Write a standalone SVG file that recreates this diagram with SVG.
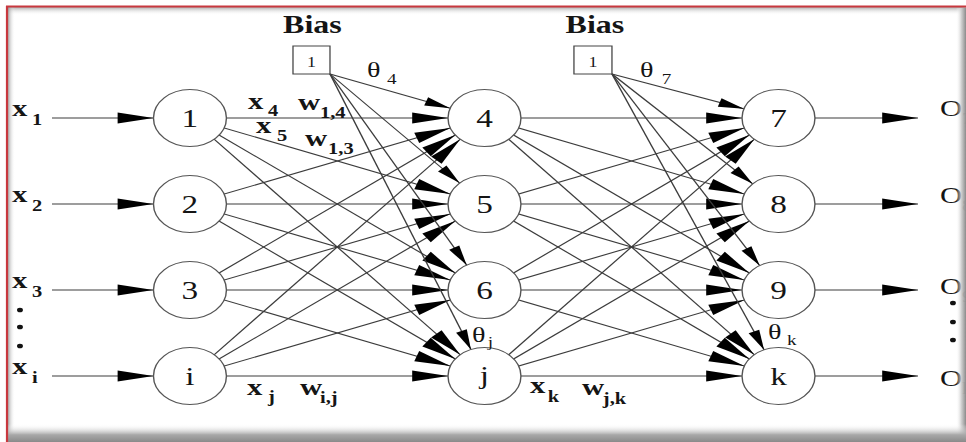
<svg xmlns="http://www.w3.org/2000/svg" width="966" height="442" viewBox="0 0 966 442">
  <defs>
    <style>
      .e { stroke: #3c3c3c; stroke-width: 1.1; fill: none; }
      .in { marker-end: url(#ah); }
      .bi { marker-end: url(#ahb); }
      .out { marker-end: url(#aho); }
      .node { fill: #fff; stroke: #555; stroke-width: 1.1; }
      .box { fill: #fff; stroke: #444; stroke-width: 1; }
      text { font-family: "Liberation Serif", "Times New Roman", serif; fill: #151515; }
      .nl { font-size: 26px; text-anchor: middle; }
      .lb { font-size: 24px; font-weight: bold; }
      .sb { font-size: 16px; font-weight: bold; }
      .th { font-size: 22px; }
      .ts { font-size: 15px; }
      .ol { font-size: 24px; }
      .os { font-size: 16px; }
      .bias { font-size: 25px; font-weight: bold; text-anchor: middle; }
      .one { font-size: 14px; text-anchor: middle; }
      .dot { fill: #111; }
    </style>
    <!-- arrowheads: tips pulled back by the node radius so they land on the node outline -->
    <marker id="ah" markerUnits="userSpaceOnUse" orient="auto" refX="56.5" refY="5.5" markerWidth="60" markerHeight="11" overflow="visible">
      <path d="M0,0 L28,5.5 L0,11 Z" fill="#000"/>
    </marker>
    <marker id="ahb" markerUnits="userSpaceOnUse" orient="auto" refX="48.5" refY="4.5" markerWidth="50" markerHeight="9" overflow="visible">
      <path d="M0,0 L20,4.5 L0,9 Z" fill="#000"/>
    </marker>
    <marker id="aho" markerUnits="userSpaceOnUse" orient="auto" refX="28" refY="5.5" markerWidth="28" markerHeight="11" overflow="visible">
      <path d="M0,0 L28,5.5 L0,11 Z" fill="#000"/>
    </marker>
    <linearGradient id="shTop" x1="0" y1="0" x2="0" y2="1">
      <stop offset="0" stop-color="#8e8e8e" stop-opacity="0.75"/>
      <stop offset="1" stop-color="#ffffff" stop-opacity="0"/>
    </linearGradient>
    <linearGradient id="shLeft" x1="0" y1="0" x2="1" y2="0">
      <stop offset="0" stop-color="#8e8e8e" stop-opacity="0.75"/>
      <stop offset="1" stop-color="#ffffff" stop-opacity="0"/>
    </linearGradient>
    <linearGradient id="shRight" x1="0" y1="0" x2="1" y2="0">
      <stop offset="0" stop-color="#ffffff" stop-opacity="0"/>
      <stop offset="0.55" stop-color="#c8c8c8" stop-opacity="0.9"/>
      <stop offset="1" stop-color="#8a8a8a"/>
    </linearGradient>
    <linearGradient id="shBottom" x1="0" y1="0" x2="0" y2="1">
      <stop offset="0" stop-color="#ffffff" stop-opacity="0"/>
      <stop offset="0.6" stop-color="#a8a8a8"/>
      <stop offset="1" stop-color="#8a8a8a"/>
    </linearGradient>
  </defs>

  <rect x="0" y="0" width="966" height="442" fill="#fff"/>

  <!-- the network, drawn on a grid stretched 1.28x horizontally -->
  <g transform="scale(1.28 1)">
    <g id="connectors">
      <!-- inputs -->
      <line class="e in" x1="40.6" y1="118" x2="148.4" y2="118"/>
      <line class="e in" x1="40.6" y1="204" x2="148.4" y2="204"/>
      <line class="e in" x1="40.6" y1="290" x2="148.4" y2="290"/>
      <line class="e in" x1="40.6" y1="376" x2="148.4" y2="376"/>
      <!-- input layer to hidden layer -->
      <line class="e in" x1="148.4" y1="118" x2="378.5" y2="118"/>
      <line class="e in" x1="148.4" y1="118" x2="378.5" y2="204"/>
      <line class="e in" x1="148.4" y1="118" x2="378.5" y2="290"/>
      <line class="e in" x1="148.4" y1="118" x2="378.5" y2="376"/>
      <line class="e in" x1="148.4" y1="204" x2="378.5" y2="118"/>
      <line class="e in" x1="148.4" y1="204" x2="378.5" y2="204"/>
      <line class="e in" x1="148.4" y1="204" x2="378.5" y2="290"/>
      <line class="e in" x1="148.4" y1="204" x2="378.5" y2="376"/>
      <line class="e in" x1="148.4" y1="290" x2="378.5" y2="118"/>
      <line class="e in" x1="148.4" y1="290" x2="378.5" y2="204"/>
      <line class="e in" x1="148.4" y1="290" x2="378.5" y2="290"/>
      <line class="e in" x1="148.4" y1="290" x2="378.5" y2="376"/>
      <line class="e in" x1="148.4" y1="376" x2="378.5" y2="118"/>
      <line class="e in" x1="148.4" y1="376" x2="378.5" y2="204"/>
      <line class="e in" x1="148.4" y1="376" x2="378.5" y2="290"/>
      <line class="e in" x1="148.4" y1="376" x2="378.5" y2="376"/>
      <!-- first bias -->
      <line class="e bi" x1="257.8" y1="74" x2="378.5" y2="118"/>
      <line class="e bi" x1="257.8" y1="74" x2="378.5" y2="204"/>
      <line class="e bi" x1="257.8" y1="74" x2="378.5" y2="290"/>
      <line class="e bi" x1="257.8" y1="74" x2="378.5" y2="376"/>
      <!-- hidden layer to output layer -->
      <line class="e in" x1="378.5" y1="118" x2="608.2" y2="118"/>
      <line class="e in" x1="378.5" y1="118" x2="608.2" y2="204"/>
      <line class="e in" x1="378.5" y1="118" x2="608.2" y2="290"/>
      <line class="e in" x1="378.5" y1="118" x2="608.2" y2="376"/>
      <line class="e in" x1="378.5" y1="204" x2="608.2" y2="118"/>
      <line class="e in" x1="378.5" y1="204" x2="608.2" y2="204"/>
      <line class="e in" x1="378.5" y1="204" x2="608.2" y2="290"/>
      <line class="e in" x1="378.5" y1="204" x2="608.2" y2="376"/>
      <line class="e in" x1="378.5" y1="290" x2="608.2" y2="118"/>
      <line class="e in" x1="378.5" y1="290" x2="608.2" y2="204"/>
      <line class="e in" x1="378.5" y1="290" x2="608.2" y2="290"/>
      <line class="e in" x1="378.5" y1="290" x2="608.2" y2="376"/>
      <line class="e in" x1="378.5" y1="376" x2="608.2" y2="118"/>
      <line class="e in" x1="378.5" y1="376" x2="608.2" y2="204"/>
      <line class="e in" x1="378.5" y1="376" x2="608.2" y2="290"/>
      <line class="e in" x1="378.5" y1="376" x2="608.2" y2="376"/>
      <!-- second bias -->
      <line class="e bi" x1="478.1" y1="74" x2="608.2" y2="118"/>
      <line class="e bi" x1="478.1" y1="74" x2="608.2" y2="204"/>
      <line class="e bi" x1="478.1" y1="74" x2="608.2" y2="290"/>
      <line class="e bi" x1="478.1" y1="74" x2="608.2" y2="376"/>
      <!-- outputs -->
      <line class="e out" x1="608.2" y1="118" x2="717.2" y2="118"/>
      <line class="e out" x1="608.2" y1="204" x2="717.2" y2="204"/>
      <line class="e out" x1="608.2" y1="290" x2="717.2" y2="290"/>
      <line class="e out" x1="608.2" y1="376" x2="717.2" y2="376"/>
    </g>

    <g id="bias1">
      <text class="bias" x="244.1" y="33">Bias</text>
      <rect class="box" x="228.9" y="46" width="28.9" height="28"/>
      <text class="one" x="243.4" y="67">1</text>
    </g>
    <g id="bias2">
      <text class="bias" x="464.8" y="33">Bias</text>
      <rect class="box" x="448.4" y="46" width="29.7" height="28"/>
      <text class="one" x="463.3" y="67">1</text>
    </g>

    <g id="n1"><circle class="node" cx="148.4" cy="118" r="28.5"/><text class="nl" x="148.4" y="127">1</text></g>
    <g id="n2"><circle class="node" cx="148.4" cy="204" r="28.5"/><text class="nl" x="148.4" y="213">2</text></g>
    <g id="n3"><circle class="node" cx="148.4" cy="290" r="28.5"/><text class="nl" x="148.4" y="299">3</text></g>
    <g id="ni"><circle class="node" cx="148.4" cy="376" r="28.5"/><text class="nl" x="148.4" y="385">i</text></g>
    <g id="n4"><circle class="node" cx="378.5" cy="118" r="28.5"/><text class="nl" x="378.5" y="127">4</text></g>
    <g id="n5"><circle class="node" cx="378.5" cy="204" r="28.5"/><text class="nl" x="378.5" y="213">5</text></g>
    <g id="n6"><circle class="node" cx="378.5" cy="290" r="28.5"/><text class="nl" x="378.5" y="299">6</text></g>
    <g id="nj"><circle class="node" cx="378.5" cy="376" r="28.5"/><text class="nl" x="378.5" y="384">j</text></g>
    <g id="n7"><circle class="node" cx="608.2" cy="118" r="28.5"/><text class="nl" x="608.2" y="127">7</text></g>
    <g id="n8"><circle class="node" cx="608.2" cy="204" r="28.5"/><text class="nl" x="608.2" y="213">8</text></g>
    <g id="n9"><circle class="node" cx="608.2" cy="290" r="28.5"/><text class="nl" x="608.2" y="299">9</text></g>
    <g id="nk"><circle class="node" cx="608.2" cy="376" r="28.5"/><text class="nl" x="608.2" y="385">k</text></g>

    <g id="labels">
      <!-- input names -->
      <text><tspan class="lb" x="9.4" y="116">x</tspan><tspan class="sb" x="25" y="125">1</tspan></text>
      <text><tspan class="lb" x="9.4" y="202">x</tspan><tspan class="sb" x="25" y="211">2</tspan></text>
      <text><tspan class="lb" x="9.4" y="288">x</tspan><tspan class="sb" x="25" y="297">3</tspan></text>
      <text><tspan class="lb" x="9.4" y="374">x</tspan><tspan class="sb" x="25" y="383">i</tspan></text>
      <circle class="dot" cx="15.6" cy="310" r="2.3"/>
      <circle class="dot" cx="15.6" cy="327" r="2.3"/>
      <circle class="dot" cx="15.6" cy="346" r="2.3"/>
      <!-- weights and signals -->
      <text><tspan class="lb" x="193.8" y="109">x</tspan><tspan class="sb" x="209.4" y="116">4</tspan></text>
      <text><tspan class="lb" x="232.8" y="110">w</tspan><tspan class="sb" x="250" y="118">1,4</tspan></text>
      <text><tspan class="lb" x="200" y="133">x</tspan><tspan class="sb" x="216.4" y="141">5</tspan></text>
      <text><tspan class="lb" x="238.3" y="146">w</tspan><tspan class="sb" x="256.3" y="154">1,3</tspan></text>
      <text><tspan class="lb" x="193" y="395">x</tspan><tspan class="sb" x="209.4" y="402">j</tspan></text>
      <text><tspan class="lb" x="234.4" y="395">w</tspan><tspan class="sb" x="250" y="403">i,j</tspan></text>
      <text><tspan class="lb" x="414" y="393">x</tspan><tspan class="sb" x="428" y="402">k</tspan></text>
      <text><tspan class="lb" x="454.7" y="395">w</tspan><tspan class="sb" x="471" y="404">j,k</tspan></text>
      <!-- bias weights -->
      <text><tspan class="th" x="286.7" y="77">θ</tspan><tspan class="ts" x="302.3" y="84">4</tspan></text>
      <text><tspan class="th" x="500" y="77">θ</tspan><tspan class="ts" x="517" y="84">7</tspan></text>
      <text><tspan class="th" x="368.8" y="342">θ</tspan><tspan class="ts" x="381" y="347">j</tspan></text>
      <text><tspan class="th" x="600" y="339">θ</tspan><tspan class="ts" x="614.8" y="345">k</tspan></text>
      <!-- output names -->
      <text><tspan class="ol" x="734.4" y="116">O</tspan><tspan class="os" x="751.6" y="124">7</tspan></text>
      <text><tspan class="ol" x="734.4" y="203">O</tspan><tspan class="os" x="751.6" y="211">8</tspan></text>
      <text><tspan class="ol" x="734.4" y="294">O</tspan><tspan class="os" x="751.6" y="302">9</tspan></text>
      <text><tspan class="ol" x="734.4" y="386">O</tspan><tspan class="os" x="751.6" y="394">k</tspan></text>
      <circle class="dot" cx="744.5" cy="303" r="2.3"/>
      <circle class="dot" cx="744.5" cy="322" r="2.3"/>
      <circle class="dot" cx="744.5" cy="340" r="2.3"/>
    </g>
  </g>

  <!-- frame with inner shadow -->
  <rect x="8" y="7" width="958" height="8" fill="url(#shTop)"/>
  <rect x="8" y="7" width="7" height="435" fill="url(#shLeft)"/>
  <rect x="956" y="8" width="10" height="434" fill="url(#shRight)"/>
  <rect x="8" y="424" width="958" height="18" fill="url(#shBottom)"/>
  <line x1="6" y1="6.5" x2="966" y2="6.5" stroke="#c8383e" stroke-width="2.2"/>
  <line x1="7" y1="6" x2="7" y2="442" stroke="#c8383e" stroke-width="2.2"/>
</svg>
